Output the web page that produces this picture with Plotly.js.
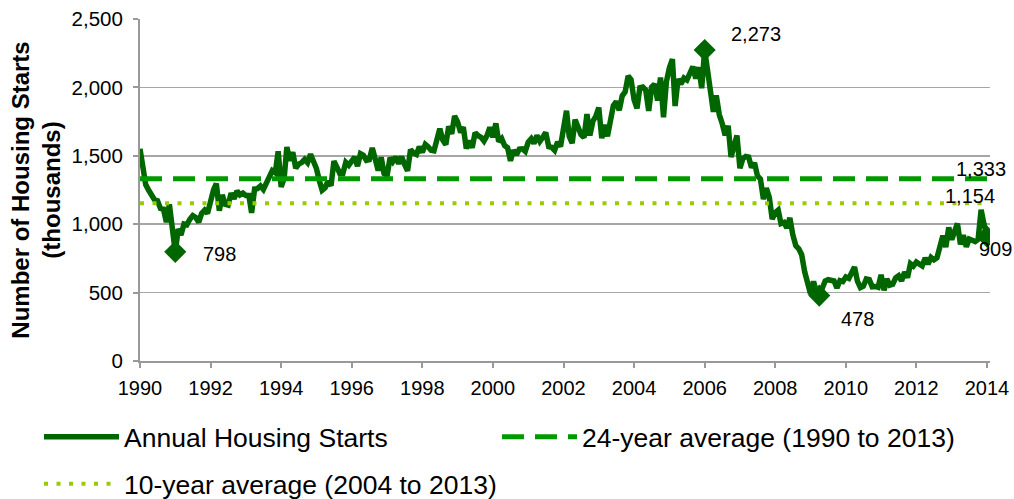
<!DOCTYPE html>
<html>
<head>
<meta charset="utf-8">
<script src="https://cdn.plot.ly/plotly-3.0.1.min.js"></script>
<style>html,body{margin:0;padding:0;background:#fff;}#chart{width:1014px;height:499px;}</style>
</head>
<body>
<div id="chart"></div>
<script>
// Monthly housing starts (thousands, SAAR), Jan 1990 .. Jan 2014
const startYear = 1990;
const starts = [
  1551,1437,1289,1248,1212,1177,1171,1115,1110,1014,1145,969,   // 1990
  798,965,921,1001,996,1036,1063,1049,1015,1079,1103,1079,      // 1991
  1176,1250,1297,1099,1214,1145,1139,1226,1186,1244,1214,1227,  // 1992
  1210,1210,1083,1258,1260,1280,1254,1300,1343,1392,1376,1533,  // 1993
  1272,1337,1564,1465,1526,1409,1439,1450,1474,1450,1511,1455,  // 1994
  1407,1316,1249,1267,1314,1281,1461,1416,1369,1369,1452,1431,  // 1995
  1467,1491,1424,1516,1504,1467,1472,1557,1475,1392,1489,1370,  // 1996
  1355,1486,1457,1492,1442,1494,1437,1390,1546,1520,1510,1566,  // 1997
  1525,1584,1567,1540,1536,1641,1698,1614,1582,1715,1660,1792,  // 1998
  1748,1670,1710,1553,1611,1559,1669,1648,1635,1608,1648,1708,  // 1999
  1636,1737,1604,1626,1575,1559,1463,1541,1507,1549,1551,1532,  // 2000
  1600,1625,1590,1649,1605,1636,1670,1567,1562,1540,1602,1568,  // 2001
  1698,1829,1642,1592,1764,1717,1655,1633,1804,1648,1753,1788,  // 2002
  1853,1629,1726,1643,1751,1867,1897,1833,1939,1967,2083,2057,  // 2003
  1911,1846,1998,2003,1981,1828,2002,2024,1905,2072,1782,2042,  // 2004
  2144,2207,1864,2061,2025,2068,2054,2095,2151,2065,2147,1994,  // 2005
  2273,2119,1969,1821,1942,1802,1737,1650,1720,1491,1570,1649,  // 2006
  1409,1480,1495,1490,1415,1448,1354,1330,1183,1264,1197,1037,  // 2007
  1084,1103,1005,1013,973,1046,923,844,820,777,652,560,         // 2008
  490,582,505,478,540,585,594,586,585,534,588,581,              // 2009
  614,604,636,687,583,536,546,599,594,543,545,539,              // 2010
  630,517,600,554,561,608,623,585,650,610,711,694,              // 2011
  723,704,695,753,708,757,740,754,847,915,833,976,              // 2012
  888,962,1005,852,919,835,891,883,873,889,1105,1000,           // 2013
  909                                                           // 2014
];
const avg24 = 1333;   // 1990 to 2013
const avg10 = 1154;   // 2004 to 2013
const avgStart = '1990-01-01';
const avgEnd = '2014-01-01';
const highlightDates = ['1991-01-01', '2006-01-01', '2009-04-01', '2014-01-01'];
const seriesNames = ['Annual Housing Starts', '24-year average (1990 to 2013)', '10-year average (2004 to 2013)'];

const dates = starts.map((v, i) => {
  const y = startYear + Math.floor(i / 12);
  const m = (i % 12) + 1;
  return y + '-' + String(m).padStart(2, '0') + '-01';
});
const hlY = highlightDates.map(d => starts[dates.indexOf(d)]);
const fmt = v => v.toLocaleString('en-US');

const dark = '#006600';
const traces = [
  {x: dates, y: starts, type: 'scatter', mode: 'lines', name: seriesNames[0], legend: 'legend',
   line: {color: dark, width: 5.5}},
  {x: [avgStart, avgEnd], y: [avg24, avg24], type: 'scatter', mode: 'lines', name: seriesNames[1], legend: 'legend2',
   line: {color: '#009900', width: 5, dash: '22px,11px'}},
  {x: [avgStart, avgEnd], y: [avg10, avg10], type: 'scatter', mode: 'lines', name: seriesNames[2], legend: 'legend3',
   line: {color: '#99cc00', width: 4, dash: '4px,8.5px'}},
  {x: highlightDates, y: hlY, type: 'scatter', mode: 'markers', showlegend: false,
   marker: {symbol: 'diamond', size: 17, color: dark}}
];

const shifts = [[26, -2], [24, 16], [20, -23], [-10, -12]];
const annotations = highlightDates.map((d, i) => ({
  x: d, y: hlY[i], text: fmt(hlY[i]), showarrow: false, xanchor: 'left', yanchor: 'middle',
  xshift: shifts[i][0], yshift: shifts[i][1], font: {size: 20, color: '#000'}
}));
annotations.push({x: avgEnd, y: avg24, text: fmt(avg24), showarrow: false, xanchor: 'right',
  yanchor: 'middle', xshift: 21, yshift: 10, font: {size: 20, color: '#000'}});
annotations.push({x: avgEnd, y: avg10, text: fmt(avg10), showarrow: false, xanchor: 'right',
  yanchor: 'middle', xshift: 10, yshift: 7, font: {size: 20, color: '#000'}});

const plotW = 1014 - 140 - 24, plotH = 499 - 19 - 138;
const legendCommon = {orientation: 'h', xanchor: 'left', yanchor: 'top', itemwidth: 75,
  font: {size: 26.5}, bgcolor: 'rgba(0,0,0,0)', borderwidth: 0};
const lx = px => (px - 140) / plotW;
const ly = py => (361 - py) / plotH;

const layout = {
  width: 1014, height: 499,
  margin: {l: 140, r: 24, t: 19, b: 138, autoexpand: false},
  paper_bgcolor: '#fff', plot_bgcolor: '#fff',
  font: {family: 'Liberation Sans, Arial, sans-serif', color: '#000'},
  showlegend: true,
  xaxis: {type: 'date', range: ['1990-01-01', '2014-02-01'], tick0: '1990-01-01', dtick: 'M24',
    tickformat: '%Y', showgrid: false, zeroline: false, showline: true, linecolor: '#999', linewidth: 2,
    ticks: 'outside', ticklen: 5, tickcolor: '#999', tickwidth: 2, tickfont: {size: 20},
    ticklabelstandoff: 3},
  yaxis: {range: [0, 2500], dtick: 500, tickformat: ',d', showgrid: true, gridcolor: '#a6a6a6', gridwidth: 1.5,
    zeroline: false, showline: true, linecolor: '#999', linewidth: 2,
    ticks: 'outside', ticklen: 5, tickcolor: '#999', tickwidth: 2, tickfont: {size: 20.5},
    ticklabelstandoff: 6,
    title: {text: '<b>Number of Housing Starts<br>(thousands)</b>', font: {size: 24}, standoff: 4}},
  legend: Object.assign({}, legendCommon, {x: lx(39), y: ly(413)}),
  legend2: Object.assign({}, legendCommon, {x: lx(497), y: ly(413)}),
  legend3: Object.assign({}, legendCommon, {x: lx(39), y: ly(460)}),
  annotations: annotations
};

Plotly.newPlot('chart', traces, layout, {displayModeBar: false, staticPlot: true});
</script>
</body>
</html>
